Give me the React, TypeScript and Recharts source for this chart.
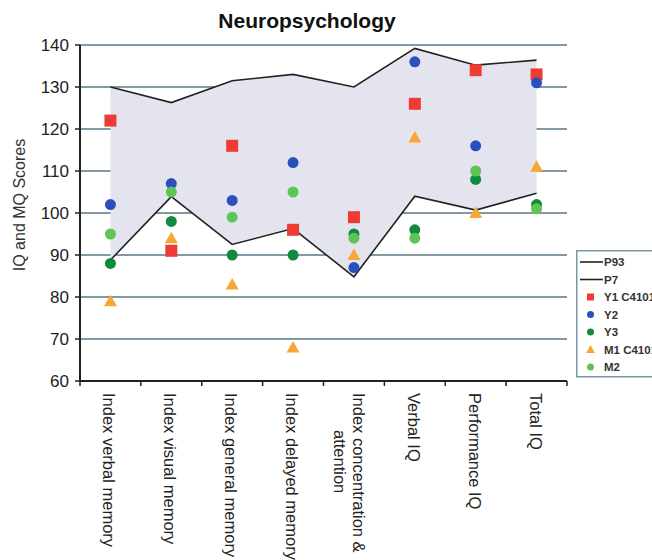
import { Area, CartesianGrid, ComposedChart, Line, Scatter, XAxis, YAxis } from "recharts"

const categories = [
  "Index verbal memory",
  "Index visual memory",
  "Index general memory",
  "Index delayed memory",
  "Index concentration &\nattention",
  "Verbal IQ",
  "Performance IQ",
  "Total IQ",
]

const p93 = [130, 126.3, 131.5, 133, 130, 139.2, 135.2, 136.4]
const p7 = [88.8, 103.9, 92.5, 96.3, 84.8, 104, 100.7, 104.7]
const y1 = [122, 91, 116, 96, 99, 126, 134, 133]
const y2 = [102, 107, 103, 112, 87, 136, 116, 131]
const y3 = [88, 98, 90, 90, 95, 96, 108, 102]
const m1 = [79, 94, 83, 68, 90, 118, 100, 111]
const m2 = [95, 105, 99, 105, 94, 94, 110, 101]

const yTicks = [60, 70, 80, 90, 100, 110, 120, 130, 140]

const data = categories.map((name, i) => ({
  name,
  p93: p93[i],
  p7: p7[i],
  band: [p7[i], p93[i]],
  y1: y1[i],
  y2: y2[i],
  y3: y3[i],
  m1: m1[i],
  m2: m2[i],
}))

const W = 652
const H = 560
const PLOT_LEFT = 80
const PLOT_RIGHT = 567
const PLOT_TOP = 45
const PLOT_BOTTOM = 381
const BAND = (PLOT_RIGHT - PLOT_LEFT) / categories.length

const FONT = "'Liberation Sans', Arial, sans-serif"
const GRID = "#587686"

const RED = "#ee3b33"
const BLUE = "#2b50bd"
const DKGREEN = "#108a3c"
const ORANGE = "#f8a736"
const LTGREEN = "#5ec456"

const square = (p: any) => <rect x={p.cx - 6} y={p.cy - 6} width={12} height={12} fill={RED} />
const dot = (color: string) => (p: any) => <circle cx={p.cx} cy={p.cy} r={5.5} fill={color} />
const triangle = (p: any) => (
  <polygon points={`${p.cx},${p.cy - 6.5} ${p.cx + 6.5},${p.cy + 5} ${p.cx - 6.5},${p.cy + 5}`} fill={ORANGE} />
)

function XTick(props: any) {
  const { x, index, payload } = props
  const lines = String(payload.value).split("\n")
  const last = index === categories.length - 1
  return (
    <g>
      <line x1={x - BAND / 2} x2={x - BAND / 2} y1={PLOT_BOTTOM} y2={PLOT_BOTTOM + 5} stroke="#222" strokeWidth={1.5} />
      {last && (
        <line x1={x + BAND / 2} x2={x + BAND / 2} y1={PLOT_BOTTOM} y2={PLOT_BOTTOM + 5} stroke="#222" strokeWidth={1.5} />
      )}
      <text
        transform={`translate(${x - 1}, ${PLOT_BOTTOM + 12}) rotate(90)`}
        fontSize={16.5}
        fontFamily={FONT}
        fill="#222"
        dominantBaseline="central"
      >
        {lines.length === 1 ? (
          <tspan x={0} y={0}>
            {lines[0]}
          </tspan>
        ) : (
          lines.map((l, i) => (
            <tspan key={i} x={i === 0 ? 0 : 37} y={i === 0 ? -6 : 13}>
              {l}
            </tspan>
          ))
        )}
      </text>
    </g>
  )
}

const legendItems = [
  { label: "P93", kind: "line", color: "#222" },
  { label: "P7", kind: "line", color: "#222" },
  { label: "Y1 C4101Y", kind: "square", color: RED },
  { label: "Y2", kind: "circle", color: BLUE },
  { label: "Y3", kind: "circle", color: DKGREEN },
  { label: "M1 C4101M", kind: "triangle", color: ORANGE },
  { label: "M2", kind: "circle", color: LTGREEN },
]

function LegendBox() {
  return (
    <svg
      width={90}
      height={128}
      style={{ position: "absolute", left: 576, top: 250, background: "#fff", overflow: "visible" }}
    >
      <rect x={0.75} y={0.75} width={95} height={126} fill="#fff" stroke="#7d97a4" strokeWidth={1.5} />
      {legendItems.map((it, i) => {
        const cy = 12 + i * 17.5
        const cx = 14.5
        let marker
        if (it.kind === "line") marker = <line x1={4} x2={27} y1={cy} y2={cy} stroke={it.color} strokeWidth={1.6} />
        else if (it.kind === "square") marker = <rect x={cx - 3.5} y={cy - 3.5} width={7} height={7} fill={it.color} />
        else if (it.kind === "circle") marker = <circle cx={cx} cy={cy} r={3.5} fill={it.color} />
        else
          marker = (
            <polygon points={`${cx},${cy - 4.5} ${cx + 4.5},${cy + 3.5} ${cx - 4.5},${cy + 3.5}`} fill={it.color} />
          )
        return (
          <g key={it.label}>
            {marker}
            <text x={28} y={cy} dominantBaseline="central" fontSize={11.5} fontWeight="bold" fontFamily={FONT} fill="#333">
              {it.label}
            </text>
          </g>
        )
      })}
    </svg>
  )
}

export default function App() {
  return (
    <div
      style={{
        position: "absolute",
        left: 0,
        top: 0,
        width: W,
        height: H,
        overflow: "hidden",
        background: "#fff",
        fontFamily: FONT,
      }}
    >
      <div
        style={{
          position: "absolute",
          left: 0,
          top: 9,
          width: 614,
          textAlign: "center",
          fontSize: 21,
          fontWeight: "bold",
          color: "#111",
        }}
      >
        Neuropsychology
      </div>
      <ComposedChart
        width={W}
        height={H}
        data={data}
        margin={{ top: PLOT_TOP, right: W - PLOT_RIGHT, bottom: 0, left: 0 }}
      >
        <CartesianGrid vertical={false} stroke={GRID} strokeWidth={1.3} />
        <XAxis
          dataKey="name"
          height={H - PLOT_BOTTOM}
          interval={0}
          padding={{ left: BAND / 2, right: BAND / 2 }}
          tickLine={false}
          axisLine={{ stroke: "#222", strokeWidth: 2 }}
          tick={<XTick />}
        />
        <YAxis
          width={PLOT_LEFT}
          domain={[60, 140]}
          ticks={yTicks}
          allowDataOverflow
          tickSize={5}
          tickMargin={6}
          tickLine={{ stroke: "#222", strokeWidth: 1.5 }}
          axisLine={{ stroke: "#222", strokeWidth: 2 }}
          tick={{ fontSize: 17, fill: "#222", fontFamily: FONT }}
          label={() => (
            <text
              x={19}
              y={205}
              transform="rotate(-90 19 205)"
              textAnchor="middle"
              dominantBaseline="central"
              fontSize={16}
              fontFamily={FONT}
              fill="#333"
            >
              IQ and MQ Scores
            </text>
          )}
        />
        <YAxis
          yAxisId="r"
          orientation="right"
          width={0}
          domain={[60, 140]}
          tick={false}
          tickLine={false}
          axisLine={{ stroke: GRID, strokeWidth: 1.5 }}
        />
        <Area dataKey="band" stroke="none" fill="#e4e4ee" fillOpacity={1} isAnimationActive={false} />
        <Line dataKey="p93" stroke="#222" strokeWidth={1.6} dot={false} isAnimationActive={false} />
        <Line dataKey="p7" stroke="#222" strokeWidth={1.6} dot={false} isAnimationActive={false} />
        <Scatter dataKey="y1" shape={square} isAnimationActive={false} />
        <Scatter dataKey="y2" shape={dot(BLUE)} isAnimationActive={false} />
        <Scatter dataKey="y3" shape={dot(DKGREEN)} isAnimationActive={false} />
        <Scatter dataKey="m1" shape={triangle} isAnimationActive={false} />
        <Scatter dataKey="m2" shape={dot(LTGREEN)} isAnimationActive={false} />
      </ComposedChart>
      <LegendBox />
    </div>
  )
}
